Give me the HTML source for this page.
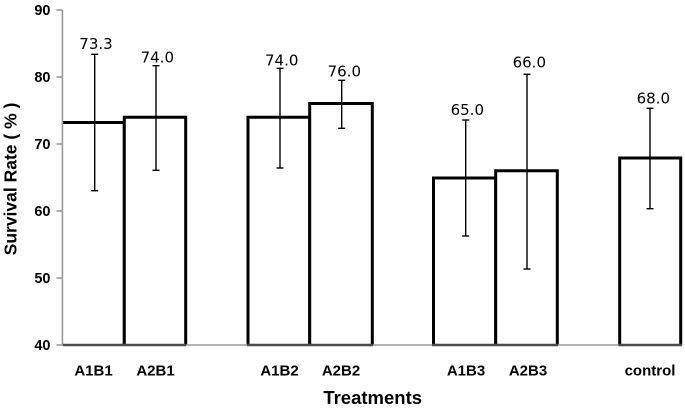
<!DOCTYPE html>
<html>
<head>
<meta charset="utf-8">
<style>
html,body{margin:0;padding:0;background:#fff;}
svg{display:block;}
.tick{font-family:"Liberation Sans",Arial,sans-serif;font-weight:bold;font-size:14.5px;fill:#000;}
.cat{font-family:"Liberation Sans",Arial,sans-serif;font-weight:bold;font-size:15px;fill:#000;}
.val{font-family:"DejaVu Sans","Liberation Sans",sans-serif;font-size:15px;fill:#000;}
</style>
</head>
<body>
<svg width="685" height="411" viewBox="0 0 685 411" xmlns="http://www.w3.org/2000/svg">
  <rect x="0" y="0" width="685" height="411" fill="#fff"/>

  <!-- bars (open bottom) -->
  <g fill="#fff" stroke="#000" stroke-width="3" stroke-linejoin="miter">
    <rect x="62.4" y="122.5" width="61.9" height="222.5" stroke="none"/>
    <path d="M62.4,122.5 H124.3 V345" fill="none"/>
    <path d="M124.3,345 V117.3 H185.7 V345"/>
    <path d="M248,345 V117.3 H309.7 V345"/>
    <path d="M309.7,345 V103.5 H372.3 V345"/>
    <path d="M433.5,345 V178 H495.7 V345"/>
    <path d="M495.7,345 V170.7 H557.3 V345"/>
    <path d="M619.7,345 V158 H680.7 V345"/>
  </g>

  <!-- axes -->
  <g stroke="#9a9a9a" stroke-width="1.6" fill="none">
    <line x1="62.4" y1="10" x2="62.4" y2="345.5"/>
    <line x1="62" y1="345" x2="681" y2="345"/>
    <line x1="56.5" y1="10" x2="62.4" y2="10"/>
    <line x1="56.5" y1="77" x2="62.4" y2="77"/>
    <line x1="56.5" y1="144" x2="62.4" y2="144"/>
    <line x1="56.5" y1="211" x2="62.4" y2="211"/>
    <line x1="56.5" y1="278" x2="62.4" y2="278"/>
    <line x1="56.5" y1="345" x2="62.4" y2="345"/>
  </g>
  <!-- darker base under bars -->
  <g stroke="#4a4a4a" stroke-width="2.4">
    <line x1="63" y1="345" x2="186" y2="345"/>
    <line x1="247" y1="345" x2="373" y2="345"/>
    <line x1="432" y1="345" x2="558" y2="345"/>
    <line x1="618.5" y1="345" x2="682" y2="345"/>
  </g>

  <!-- error bars -->
  <g stroke="#000" stroke-width="1.4" fill="none">
    <line x1="94.7" y1="54.3" x2="94.7" y2="190.7"/>
    <line x1="91.2" y1="54.3" x2="98.2" y2="54.3"/>
    <line x1="91.2" y1="190.7" x2="98.2" y2="190.7"/>

    <line x1="156" y1="65.7" x2="156" y2="170.3"/>
    <line x1="152.5" y1="65.7" x2="159.5" y2="65.7"/>
    <line x1="152.5" y1="170.3" x2="159.5" y2="170.3"/>

    <line x1="280" y1="68.3" x2="280" y2="168"/>
    <line x1="276.5" y1="68.3" x2="283.5" y2="68.3"/>
    <line x1="276.5" y1="168" x2="283.5" y2="168"/>

    <line x1="341.7" y1="80.3" x2="341.7" y2="128.3"/>
    <line x1="338.2" y1="80.3" x2="345.2" y2="80.3"/>
    <line x1="338.2" y1="128.3" x2="345.2" y2="128.3"/>

    <line x1="465.7" y1="120" x2="465.7" y2="236"/>
    <line x1="462.2" y1="120" x2="469.2" y2="120"/>
    <line x1="462.2" y1="236" x2="469.2" y2="236"/>

    <line x1="527" y1="74.3" x2="527" y2="269"/>
    <line x1="523.5" y1="74.3" x2="530.5" y2="74.3"/>
    <line x1="523.5" y1="269" x2="530.5" y2="269"/>

    <line x1="650" y1="108.3" x2="650" y2="208.7"/>
    <line x1="646.5" y1="108.3" x2="653.5" y2="108.3"/>
    <line x1="646.5" y1="208.7" x2="653.5" y2="208.7"/>
  </g>

  <!-- value labels -->
  <g class="val" text-anchor="middle">
    <text x="96" y="49">73.3</text>
    <text x="157.3" y="62.3">74.0</text>
    <text x="281.7" y="65.7">74.0</text>
    <text x="344.3" y="76.7">76.0</text>
    <text x="467.3" y="115">65.0</text>
    <text x="529.3" y="67.7">66.0</text>
    <text x="653.3" y="103.3">68.0</text>
  </g>

  <!-- y tick labels -->
  <g class="tick" text-anchor="end">
    <text x="50.5" y="15.2">90</text>
    <text x="50.5" y="82.2">80</text>
    <text x="50.5" y="149.2">70</text>
    <text x="50.5" y="216.2">60</text>
    <text x="50.5" y="283.2">50</text>
    <text x="50.5" y="350.2">40</text>
  </g>

  <!-- category labels -->
  <g class="cat" text-anchor="middle">
    <text x="93.5" y="375.7">A1B1</text>
    <text x="155.5" y="375.7">A2B1</text>
    <text x="279.5" y="375.7">A1B2</text>
    <text x="341" y="375.7">A2B2</text>
    <text x="466" y="375.7">A1B3</text>
    <text x="528" y="375.7">A2B3</text>
    <text x="650" y="375.7">control</text>
  </g>

  <!-- axis titles -->
  <text x="372.7" y="404" text-anchor="middle" font-family="Liberation Sans, Arial, sans-serif" font-weight="bold" font-size="18.5">Treatments</text>
  <text transform="translate(16.5,179) rotate(-90)" text-anchor="middle" font-family="Liberation Sans, Arial, sans-serif" font-weight="bold" font-size="17.5">Survival Rate ( % )</text>
</svg>
</body>
</html>
